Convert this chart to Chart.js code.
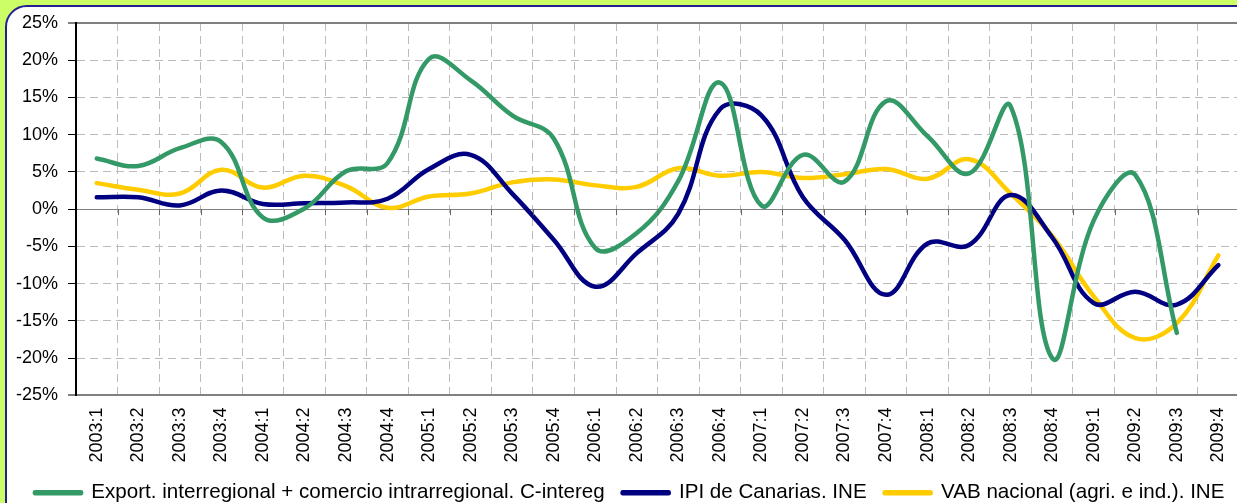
<!DOCTYPE html>
<html>
<head>
<meta charset="utf-8">
<script src="https://cdn.jsdelivr.net/npm/chart.js@4/dist/chart.umd.min.js"></script>
<style>
    html, body { margin: 0; padding: 0; overflow: hidden; width: 1237px; height: 503px; background: #ccff66; }
    #panel { position: absolute; left: 5px; top: 5px; width: 1300px; height: 600px; background: #fff;
             border: 2px solid #22228f; border-radius: 22px; box-sizing: border-box; }
    #wrap { position: absolute; left: 0; top: 0; }
</style>
</head>
<body>
<div id="panel"></div>
<div id="wrap"><canvas id="myChart" width="1252" height="513"></canvas></div>
<script>
const labels = ['2003:1', '2003:2', '2003:3', '2003:4', '2004:1', '2004:2', '2004:3', '2004:4',
    '2005:1', '2005:2', '2005:3', '2005:4', '2006:1', '2006:2', '2006:3', '2006:4',
    '2007:1', '2007:2', '2007:3', '2007:4', '2008:1', '2008:2', '2008:3', '2008:4',
    '2009:1', '2009:2', '2009:3', '2009:4'];
const exportInter = [6.8, 5.8, 8.2, 9.0, -1.1, 0.1, 5.1, 6.2, 20.2, 17.3, 12.6, 9.5, -5.2, -3.2,
    3.8, 17.0, 0.5, 7.3, 3.7, 14.5, 9.8, 4.8, 13.8, -20.0, -1.5, 4.6, -16.6, null];
const ipiCanarias = [1.6, 1.6, 0.5, 2.5, 0.7, 0.8, 0.9, 1.4, 5.4, 7.3, 2.1, -4.1, -10.4, -5.9,
    -0.6, 13.4, 12.6, 1.6, -4.1, -11.5, -4.6, -4.8, 1.9, -3.8, -12.6, -11.1, -12.8, -7.5];
const vabNacional = [3.5, 2.6, 2.1, 5.3, 2.9, 4.5, 3.1, 0.2, 1.7, 2.1, 3.6, 4.0, 3.2, 3.0,
    5.5, 4.5, 5.0, 4.2, 4.7, 5.4, 4.1, 6.7, 2.1, -3.6, -11.7, -17.3, -15.3, -6.2];
const seriesNames = ['Export. interregional + comercio intrarregional. C-intereg',
    'IPI de Canarias. INE', 'VAB nacional (agri. e ind.). INE'];
const yMin = -25, yMax = 25, yStep = 5;

// small tick marks hanging from the 0% line
const zeroTicks = {
    id: 'zeroTicks',
    afterDatasetsDraw(chart) {
        const x = chart.scales.x, y = chart.scales.y, ctx = chart.ctx;
        const y0 = y.getPixelForValue(0);
        ctx.save();
        ctx.strokeStyle = '#666';
        ctx.lineWidth = 1;
        ctx.beginPath();
        for (let i = 1; i <= labels.length; i++) {
            const px = Math.round(x.getPixelForValue(i - 0.5)) + 0.5;
            ctx.moveTo(px, y0);
            ctx.lineTo(px, y0 + 6);
        }
        ctx.stroke();
        ctx.restore();
    }
};

// nudge the legend row so it starts where the original one does
const legendShift = {
    id: 'legendShift',
    afterLayout(chart) {
        const lg = chart.legend;
        if (!lg || !lg.lineWidths) return;
        const p = lg.options.labels.padding;
        const start = (lg.left + p + lg.right - lg.lineWidths[0]) / 2;
        const d = 35 - start;
        lg.left += d;
        lg.right += d;
    }
};

const ctx = document.getElementById('myChart').getContext('2d');
const mkSet = (name, values, color) => ({
    label: name,
    data: values,
    borderColor: color,
    backgroundColor: color,
    borderWidth: 4.5,
    borderCapStyle: 'round',
    borderJoinStyle: 'round',
    pointRadius: 0,
    tension: 0.4,
    fill: false
});

new Chart(ctx, {
    type: 'line',
    data: {
        labels: labels,
        datasets: [
            mkSet(seriesNames[0], exportInter, '#339966'),
            mkSet(seriesNames[1], ipiCanarias, '#000080'),
            mkSet(seriesNames[2], vabNacional, '#ffcc00')
        ]
    },
    options: {
        responsive: false,
        animation: false,
        layout: { padding: { left: 0, right: 2, top: 23, bottom: 0 } },
        plugins: {
            tooltip: { enabled: false },
            legend: {
                position: 'bottom',
                labels: {
                    boxWidth: 46,
                    boxHeight: 1,
                    padding: 18,
                    color: '#000',
                    font: { family: 'Liberation Sans, Arial', size: 20.6 }
                }
            }
        },
        scales: {
            x: {
                offset: true,
                afterFit: s => { s.height = 69; },
                grid: { offset: true, color: '#bbbbbb', lineWidth: 1, drawTicks: false },
                border: { display: true, color: '#808080', width: 2,
                          dash: c => c.type === 'tick' ? [8, 5] : [] },
                ticks: {
                    autoSkip: false, minRotation: 90, maxRotation: 90, padding: 12,
                    color: '#000', font: { family: 'Liberation Sans, Arial', size: 18 }
                }
            },
            y: {
                min: yMin, max: yMax,
                afterFit: s => { s.width = 76; },
                grid: {
                    color: c => (c.tick && (c.tick.value === 0 || Math.abs(c.tick.value) === 25)) ? '#808080' : '#bbbbbb',
                    lineWidth: c => (c.tick && Math.abs(c.tick.value) === 25) ? 2 : 1,
                    tickColor: '#000', tickLength: 8, tickWidth: 1
                },
                border: { display: true, color: '#000', width: 2,
                          dash: c => (c.type === 'tick' && c.tick.value !== 0 && Math.abs(c.tick.value) !== 25) ? [8, 5] : [] },
                ticks: {
                    stepSize: yStep, padding: 10, color: '#000',
                    font: { family: 'Liberation Sans, Arial', size: 18 },
                    callback: v => v + '%'
                }
            }
        }
    },
    plugins: [zeroTicks, legendShift]
});
</script>
</body>
</html>
